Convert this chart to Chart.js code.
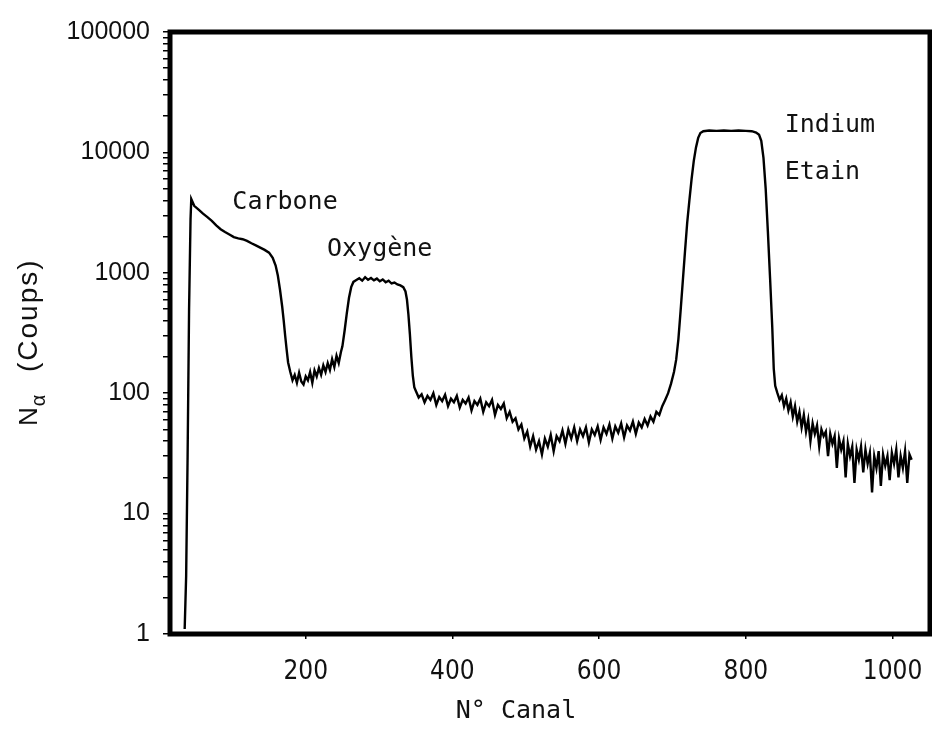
<!DOCTYPE html>
<html>
<head>
<meta charset="utf-8">
<script src="https://cdn.jsdelivr.net/npm/chart.js@4.4.1/dist/chart.umd.min.js"></script>
<style>
  html, body { margin: 0; padding: 0; background: #fff; }
  #wrap { width: 932px; height: 733px; }
</style>
</head>
<body>
<div id="wrap"><canvas id="spectre" width="932" height="733"></canvas></div>
<script>
// spectre RBS - N° canal vs coups (log)
const channels = [
  35, 37, 39, 41, 43, 44,
  48, 54, 60, 66, 72, 78, 84, 90, 96, 102, 108, 114, 120, 126, 132, 138, 144, 150,
  155, 159, 162, 165, 168, 170, 172, 174, 176, 179,
  182, 185, 188, 191, 194, 197, 200, 203, 206, 209, 212, 215, 218, 221, 224, 227,
  230, 233, 236, 239, 242, 245, 248,
  250, 253, 256, 259, 262, 265, 269, 273, 277, 281, 285, 289, 293, 297, 301, 305,
  309, 313, 317, 321, 325, 329, 333, 336, 338, 340, 342, 344, 346, 348,
  350, 354, 358, 362, 366, 370, 374, 378, 382, 386, 390, 394, 398, 402, 406, 410,
  414, 418, 422, 426, 430, 434, 438, 442, 446, 450, 454, 458, 462, 466, 470, 474,
  478, 482, 486, 490, 494, 498, 502, 506, 510, 514, 518, 522, 526, 530, 534, 538,
  542, 546, 550, 554, 558, 562, 566, 570, 574, 578, 582, 586, 590, 594, 598, 602,
  606, 610, 614, 618, 622, 626, 630, 634, 638, 642, 646, 650, 654, 658, 662, 666,
  670, 674, 678, 682, 686, 690, 694, 698,
  702, 705, 708, 711, 714, 717, 720, 723, 726, 729, 732, 735, 738, 742,
  750, 760, 770, 780, 790, 800, 808, 814, 818, 821, 824, 827, 830, 833, 836, 838,
  840, 843, 846, 849, 852, 855, 858, 861, 864, 867, 870, 873, 876, 879, 882, 885,
  888, 891, 894, 897, 900, 903, 906, 909, 912, 915, 918, 921, 924, 927, 930, 933,
  936, 939, 942, 945, 948, 951, 954, 957, 960, 963, 966, 969, 972, 975, 978, 981,
  984, 987, 990, 993, 996, 999, 1002, 1005, 1008, 1011, 1014, 1017, 1020, 1023, 1026
];
const counts = [
  1.1, 3, 30, 500, 2800, 4100,
  3600, 3350, 3100, 2900, 2700, 2480, 2300, 2180, 2080, 1980, 1930, 1900, 1840, 1760, 1690, 1620, 1550, 1470,
  1330, 1150, 950, 720, 520, 400, 300, 230, 180, 150,
  128, 142, 122, 148, 125, 118, 138, 128, 150, 122, 155, 138, 162, 142, 170, 150,
  178, 156, 192, 165, 205, 178, 220,
  245, 330, 460, 620, 760, 840, 870, 900, 860, 920, 875, 905, 865, 895, 850, 880,
  835, 860, 815, 830, 800, 785, 760, 700, 600, 450, 310, 200, 140, 112,
  105, 92, 98, 84, 95, 88, 100, 80, 93, 86, 97, 78, 90, 84, 95, 76,
  88, 82, 92, 72, 86, 80, 90, 70, 84, 78, 88, 66, 80, 74, 82, 62,
  70, 58, 62, 50, 55, 42, 48, 36, 44, 34, 40, 31, 42, 36, 45, 33,
  44, 40, 49, 38, 50, 42, 52, 40, 50, 44, 52, 39, 50, 45, 53, 41,
  52, 46, 55, 42, 53, 47, 56, 43, 54, 49, 58, 46, 57, 52, 61, 54,
  64, 58, 70, 66, 78, 88, 100, 120,
  150, 190, 280, 480, 850, 1500, 2600, 4000, 6000, 8500, 11000, 13200, 14500, 15000,
  15200, 15100, 15200, 15100, 15200, 15100, 15000, 14600, 14000, 12500, 9000, 5000, 2200, 900, 350, 160,
  115, 100, 88, 96, 78, 90, 72, 84, 64, 78, 58, 70, 52, 66, 48, 60,
  40, 56, 46, 54, 36, 50, 44, 48, 30, 46, 38, 44, 24, 42, 34, 40,
  20, 38, 30, 36, 18, 34, 28, 36, 22, 34, 26, 32, 15, 30, 24, 33,
  17, 31, 25, 30, 19, 32, 26, 34, 20, 30, 24, 33, 18, 31, 28
];
const xTicks = [200, 400, 600, 800, 1000];
const yTicks = [1, 10, 100, 1000, 10000, 100000];
const yMinorTicks = [2, 3, 4, 5, 6, 7, 8, 9, 20, 30, 40, 50, 60, 70, 80, 90,
  200, 300, 400, 500, 600, 700, 800, 900, 2000, 3000, 4000, 5000, 6000, 7000, 8000, 9000,
  20000, 30000, 40000, 50000, 60000, 70000, 80000, 90000];
const peakLabels = [
  { text: 'Carbone', x: 100, y: 3400 },
  { text: 'Oxygène', x: 229, y: 1390 },
  { text: 'Indium', x: 853, y: 14900 },
  { text: 'Etain', x: 853, y: 6000 }
];

const monoFont = "'DejaVu Sans Mono', monospace";
const sansFont = "'Liberation Sans', Arial, sans-serif";

const framePlugin = {
  id: 'frame',
  afterDraw(chart) {
    const { ctx, chartArea: a, scales } = chart;
    ctx.save();
    // cadre épais
    ctx.strokeStyle = '#000';
    ctx.lineWidth = 5;
    ctx.strokeRect(a.left, a.top, a.right - a.left, a.bottom - a.top);

    // noms des pics
    ctx.fillStyle = '#111';
    ctx.font = '25px ' + monoFont;
    ctx.textAlign = 'left';
    ctx.textBaseline = 'alphabetic';
    peakLabels.forEach(l => {
      ctx.fillText(l.text, scales.x.getPixelForValue(l.x), scales.y.getPixelForValue(l.y));
    });

    // titre axe x
    ctx.textAlign = 'center';
    ctx.fillText('N° Canal', 516, 718);

    // titre axe y : N alpha (Coups)
    ctx.translate(37, 426);
    ctx.rotate(-Math.PI / 2);
    ctx.textAlign = 'left';
    ctx.font = '26px ' + sansFont;
    ctx.fillText('N', 0, 0);
    const w = ctx.measureText('N').width;
    ctx.font = '20px ' + sansFont;
    ctx.fillText('α', w + 1, 8);
    ctx.font = '28px ' + sansFont;
    ctx.letterSpacing = '2px';
    ctx.fillText('(Coups)', 54, 0);
    ctx.restore();
  }
};

new Chart(document.getElementById('spectre'), {
  type: 'line',
  data: {
    datasets: [{
      data: channels.map((c, i) => ({ x: c, y: counts[i] })),
      borderColor: '#000',
      borderWidth: 2.4,
      pointRadius: 0,
      tension: 0,
      fill: false
    }]
  },
  options: {
    responsive: false,
    animation: false,
    layout: { padding: { top: 32, right: 2, left: 0, bottom: 0 } },
    plugins: { legend: { display: false }, tooltip: { enabled: false } },
    scales: {
      x: {
        type: 'linear',
        min: 15,
        max: 1051,
        afterBuildTicks: scale => { scale.ticks = xTicks.map(v => ({ value: v })); },
        afterFit: scale => {
          scale.height = 99;
          scale.paddingLeft = 0;
          scale.paddingRight = 0;
        },
        border: { display: false },
        grid: { drawOnChartArea: false, tickLength: 5, color: '#000', lineWidth: 1.5 },
        ticks: {
          color: '#111',
          padding: 18,
          autoSkip: false,
          maxRotation: 0,
          font: { family: "'Liberation Sans Narrow', 'DejaVu Sans Condensed', sans-serif", size: 26 },
          callback: v => String(v)
        }
      },
      y: {
        type: 'logarithmic',
        min: 1,
        max: 100000,
        afterBuildTicks: scale => {
          scale.ticks = yTicks.concat(yMinorTicks).sort((p, q) => p - q).map(v => ({ value: v }));
        },
        afterFit: scale => {
          scale.width = 170;
          scale.paddingTop = 0;
          scale.paddingBottom = 0;
        },
        border: { display: false },
        grid: { drawOnChartArea: false, tickLength: 7, color: '#000', lineWidth: 1.5 },
        ticks: {
          color: '#111',
          padding: 13,
          autoSkip: false,
          font: { family: sansFont, size: 25 },
          callback: v => (yTicks.includes(v) ? String(v) : '')
        }
      }
    }
  },
  plugins: [framePlugin]
});
</script>
</body>
</html>
